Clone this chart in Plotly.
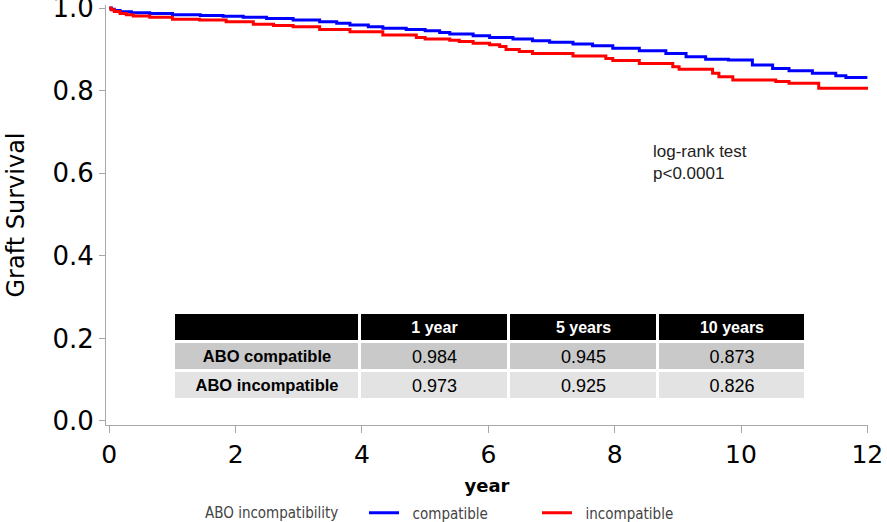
import plotly.graph_objects as go

# Kaplan-Meier graft survival (time in years, survival)
compat_t = [0.00, 0.03, 0.08, 0.17, 0.35, 0.64, 1.00, 1.44, 1.80, 2.12, 2.49, 2.91, 3.33, 3.60,
            3.81, 4.10, 4.33, 4.70, 5.00, 5.23, 5.39, 5.76, 6.02, 6.39, 6.70, 6.97, 7.34, 7.65,
            7.97, 8.39, 8.81, 9.13, 9.44, 9.80, 10.18, 10.50, 10.76, 11.13, 11.50, 11.66, 12.00]
compat_s = [1.000, 0.997, 0.994, 0.991, 0.989, 0.987, 0.984, 0.982, 0.980, 0.978, 0.975, 0.971,
            0.967, 0.963, 0.959, 0.955, 0.951, 0.948, 0.945, 0.941, 0.937, 0.933, 0.929, 0.925,
            0.921, 0.917, 0.913, 0.909, 0.903, 0.897, 0.890, 0.882, 0.876, 0.874, 0.862, 0.854,
            0.848, 0.842, 0.836, 0.832, 0.832]

incompat_t = [0.00, 0.03, 0.08, 0.17, 0.27, 0.38, 0.64, 1.00, 1.43, 1.85, 2.28, 2.60, 2.91, 3.33,
              3.81, 4.33, 4.86, 5.00, 5.39, 5.54, 5.76, 6.02, 6.18, 6.28, 6.49, 6.70, 7.34, 7.86,
              7.97, 8.39, 8.92, 9.02, 9.55, 9.65, 9.87, 10.55, 10.76, 11.23, 12.00]
incompat_s = [1.000, 0.996, 0.992, 0.987, 0.984, 0.981, 0.978, 0.973, 0.971, 0.967, 0.961, 0.958,
              0.955, 0.948, 0.943, 0.935, 0.929, 0.925, 0.922, 0.919, 0.915, 0.911, 0.907, 0.900,
              0.895, 0.890, 0.884, 0.878, 0.873, 0.866, 0.858, 0.852, 0.842, 0.834, 0.826, 0.822,
              0.818, 0.806, 0.802]

# Inset table
table_header = ["", "1 year", "5 years", "10 years"]
table_rows = ["ABO compatible", "ABO incompatible"]
table_1y = ["0.984", "0.973"]
table_5y = ["0.945", "0.925"]
table_10y = ["0.873", "0.826"]

x_ticks = [0, 2, 4, 6, 8, 10, 12]
y_ticks = [0.0, 0.2, 0.4, 0.6, 0.8, 1.0]

NB = "\u00a0\u00a0"
LEG_FONT = "DejaVu Sans Condensed"

fig = go.Figure()
fig.add_trace(go.Scatter(x=compat_t, y=compat_s, mode="lines", line_shape="hv",
                         line=dict(color="#0000FF", width=3), name=NB + "compatible"))
fig.add_trace(go.Scatter(x=incompat_t, y=incompat_s, mode="lines", line_shape="hv",
                         line=dict(color="#FF0000", width=3), name=NB + "incompatible"))

row_fill = ["#c9c9c9", "#e3e3e3"]
fig.add_trace(go.Table(
    domain=dict(x=[0.0892, 0.9186], y=[0.03, 0.2667]),
    columnwidth=[186, 149, 149, 148],
    header=dict(values=table_header, fill_color="black", height=29,
                line=dict(color="white", width=3), align="center",
                font=dict(family="Liberation Sans", size=16, color="white", weight="bold")),
    cells=dict(values=[table_rows, table_1y, table_5y, table_10y],
               fill_color=[row_fill] * 4, height=29,
               line=dict(color="white", width=3), align="center",
               font=dict(family="Liberation Sans", size=[16.5, 18, 18, 18], color="black",
                         weight=["bold", "normal", "normal", "normal"])),
))

fig.add_annotation(xref="paper", yref="paper", x=(651 - 106) / 762, y=(425 - 162) / 420,
                   xanchor="left", yanchor="middle", align="left", showarrow=False,
                   text="log-rank test<br>p<0.0001",
                   font=dict(family="Liberation Sans", size=17, color="#222222"))

# legend title, placed as text on the same row as the legend entries
fig.add_annotation(xref="paper", yref="paper", x=(203 - 106) / 762, y=(425 - 513) / 420,
                   xanchor="left", yanchor="middle", showarrow=False,
                   text="ABO incompatibility",
                   font=dict(family=LEG_FONT, size=15, color="#444444"))

fig.update_layout(
    width=887, height=522,
    margin=dict(l=106, r=19, t=5, b=97),
    plot_bgcolor="white", paper_bgcolor="white",
    showlegend=True,
    legend=dict(orientation="h", xref="container", yref="container",
                x=364 / 887, xanchor="left", y=(522 - 513) / 522, yanchor="middle",
                font=dict(family=LEG_FONT, size=15, color="#444444"),
                itemwidth=30, entrywidth=128, entrywidthmode="pixels"),
    xaxis=dict(range=[-0.052, 12.01], tickvals=x_ticks, showgrid=False, zeroline=False,
               automargin=False,
               showline=True, linecolor="#a8a8a8", linewidth=1, ticks="outside", ticklen=7,
               tickcolor="#a8a8a8",
               tickfont=dict(family="DejaVu Sans", size=25, color="black"),
               title=dict(text="year", standoff=11,
                          font=dict(family="DejaVu Sans", size=18, color="black",
                                    weight="bold"))),
    yaxis=dict(range=[-0.0097, 1.0075], tickvals=y_ticks, tickformat=".1f", showgrid=False,
               zeroline=False, showline=True, linecolor="#a8a8a8", linewidth=1,
               automargin=False, ticklabeloverflow="allow",
               ticks="outside", ticklen=6, tickcolor="#a8a8a8",
               tickfont=dict(family="DejaVu Sans", size=26, color="black"),
               title=dict(text="Graft Survival", standoff=21,
                          font=dict(family="DejaVu Sans", size=24, color="black"))),
)

fig.write_html("out.html", config={"displayModeBar": False},
               post_script=("var h=document.documentElement;h.style.overflow='hidden';"
                            "h.style.height='522px';h.style.margin='0';"
                            "document.body.style.margin='0';document.body.style.height='522px';"
                            "document.body.style.overflow='hidden';"))
